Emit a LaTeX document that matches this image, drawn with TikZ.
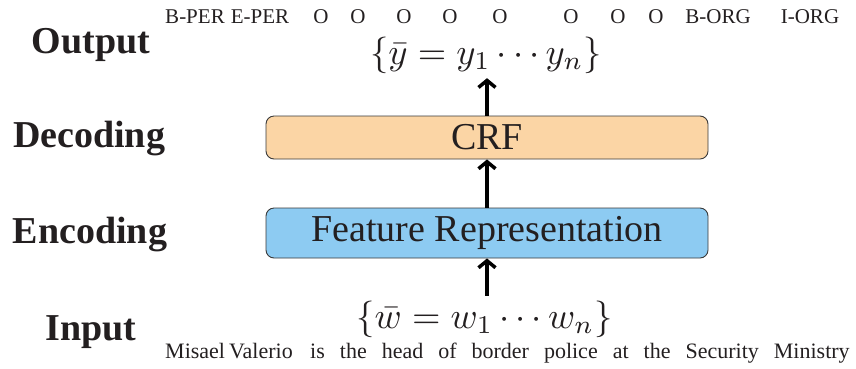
\documentclass[tikz,border=0pt]{standalone}
\usepackage{fontspec}
\setmainfont{Liberation Serif}
\usetikzlibrary{arrows.meta}
\definecolor{ink}{HTML}{231F20}
\definecolor{crffill}{HTML}{FBD5A5}
\definecolor{featfill}{HTML}{8DCBF2}
\definecolor{boxline}{HTML}{3A3A3A}
\newcommand{\bigmath}[1]{\scalebox{3.66}{$#1$}}
\begin{document}
\begin{tikzpicture}[x=1pt,y=-1pt,
  stage/.style={font=\fontsize{38}{40}\selectfont\bfseries, text=ink, inner sep=0pt, anchor=base},
  layerbox/.style={draw=boxline, line width=0.9pt, rounded corners=8pt,
    minimum width=442pt, inner sep=0pt, font=\fontsize{38}{40}\selectfont, text=ink},
  seq/.style={text=ink, inner sep=0pt, outer sep=5pt, anchor=base},
  flow/.style={-{Straight Barb[length=7pt,width=17pt]}, line width=3.5pt, draw=black},
  word/.style={font=\fontsize{22}{24}\selectfont, text=ink, inner sep=0pt, anchor=base west},
  tag/.style={font=\fontsize{21}{23}\selectfont, text=ink, inner sep=0pt, anchor=base}]
\useasboundingbox (0,0) rectangle (856,368);

% stage labels on the left
\node[stage] (lout) at (91,53) {Output};
\node[stage] (ldec) at (89,147) {Decoding};
\node[stage] (lenc) at (90,243) {Encoding};
\node[stage] (lin)  at (91,340) {Input};

% model layers
\node[layerbox, fill=crffill, minimum height=43pt] (crf) at (487,137.5) {CRF};
\node[layerbox, fill=featfill, minimum height=50pt] (feat) at (487,233) {Feature Representation};

% input and output sequences
\node[seq] (yout) at (486,64) {\bigmath{\{\bar{y}=y_1\cdots y_n\}}};
\node[seq] (win) at (484.5,328) {\bigmath{\{\bar{w}=w_1\cdots w_n\}}};

% data flow
\draw[flow] (feat.south |- win.north) -- (feat.south);
\draw[flow] (feat.north) -- (crf.south);
\draw[flow] (crf.north) -- (crf.north |- yout.south);

% example sentence with its tags above
\foreach \w/\x/\t/\tx [count=\i] in {Misael/165/B-PER/195, Valerio/229/E-PER/260,
    is/310/O/321, the/339.7/O/358, head/381.6/O/404, of/438.1/O/450,
    border/471.4/O/500, police/543.8/O/571, at/612.6/O/618, the/643.5/O/656,
    Security/685.4/B-ORG/718, Ministry/773.7/I-ORG/810} {
  \node[word] (w\i) at (\x,358) {\w};
  \node[tag] (t\i) at (\tx,23) {\t};
}
\end{tikzpicture}
\end{document}
